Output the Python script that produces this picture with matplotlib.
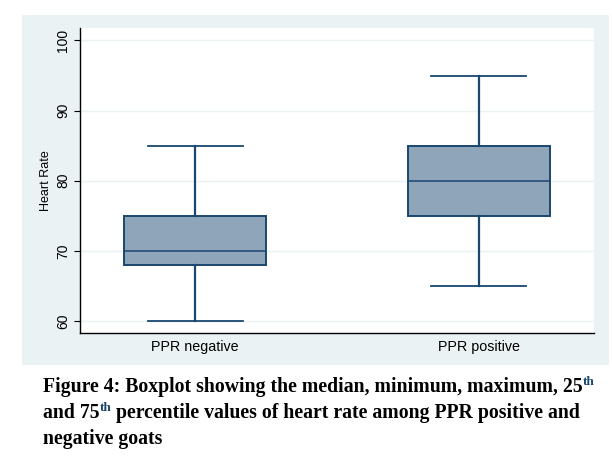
import matplotlib.pyplot as plt
from matplotlib.patches import Rectangle

groups = ["PPR negative", "PPR positive"]
minimum = [60, 65]
q1 = [68, 75]
median = [70, 80]
q3 = [75, 85]
maximum = [85, 95]
yticks = [60, 70, 80, 90, 100]

navy = "#1a476f"
fill = "#8ea5ba"
panel = "#eaf2f3"

fig = plt.figure(figsize=(6.12, 4.66), dpi=100)
fig.patch.set_facecolor("white")
fig.patches.append(Rectangle((22 / 612, 1 - 365 / 466), 587 / 612, 350 / 466,
                             transform=fig.transFigure, facecolor=panel,
                             edgecolor="none", zorder=0))

ax = fig.add_axes([80 / 612, 1 - 333 / 466, 514 / 612, 305 / 466])
ax.set_zorder(2)
ax.set_facecolor("white")

stats = []
for i, g in enumerate(groups):
    stats.append({"label": g, "whislo": minimum[i], "q1": q1[i], "med": median[i],
                  "q3": q3[i], "whishi": maximum[i], "fliers": []})

ax.bxp(stats, positions=[1, 2], widths=0.5, patch_artist=True, showfliers=False,
       boxprops=dict(facecolor=fill, edgecolor=navy, linewidth=1.4),
       medianprops=dict(color=navy, linewidth=1.1),
       whiskerprops=dict(color=navy, linewidth=1.6),
       capprops=dict(color=navy, linewidth=1.3),
       capwidths=0.335)

ax.set_xlim(0.594, 2.406)
ax.set_ylim(58.29, 101.78)
ax.set_yticks(yticks)
ax.set_yticklabels([str(t) for t in yticks], rotation=90, va="center",
                   fontsize=10, family="Liberation Sans")
ax.yaxis.grid(True, color=panel, linewidth=1.0)
ax.set_axisbelow(True)
ax.tick_params(axis="y", direction="out", length=4, width=0.8, pad=3)
ax.tick_params(axis="x", length=0, pad=5, labelsize=10.3)
for lab in ax.get_xticklabels():
    lab.set_family("Liberation Sans")
ax.set_ylabel("Heart Rate", fontsize=9, family="Liberation Sans", labelpad=3)
for s in ["top", "right"]:
    ax.spines[s].set_visible(False)
ax.spines["left"].set_linewidth(1.0)
ax.spines["bottom"].set_linewidth(1.0)

# caption with superscripts
caption = [
    [("Figure 4: Boxplot showing the median, minimum, maximum, 25", False), ("th", True)],
    [("and 75", False), ("th", True), (" percentile values of heart rate among PPR positive and", False)],
    [("negative goats", False)],
]
renderer = fig.canvas.get_renderer()
y = 1 - 392 / 466
for line in caption:
    x = 43 / 612
    for txt, sup in line:
        if sup:
            t = fig.text(x, y + 7 / 466, txt, fontsize=9.5, fontweight="bold",
                         family="Liberation Serif", color=navy, va="baseline")
        else:
            t = fig.text(x, y, txt, fontsize=14.2, fontweight="bold",
                         family="Liberation Serif", color="black", va="baseline")
        bb = t.get_window_extent(renderer)
        x += bb.width / fig.bbox.width
    y -= 26 / 466

fig.savefig("out.png", dpi=100)
